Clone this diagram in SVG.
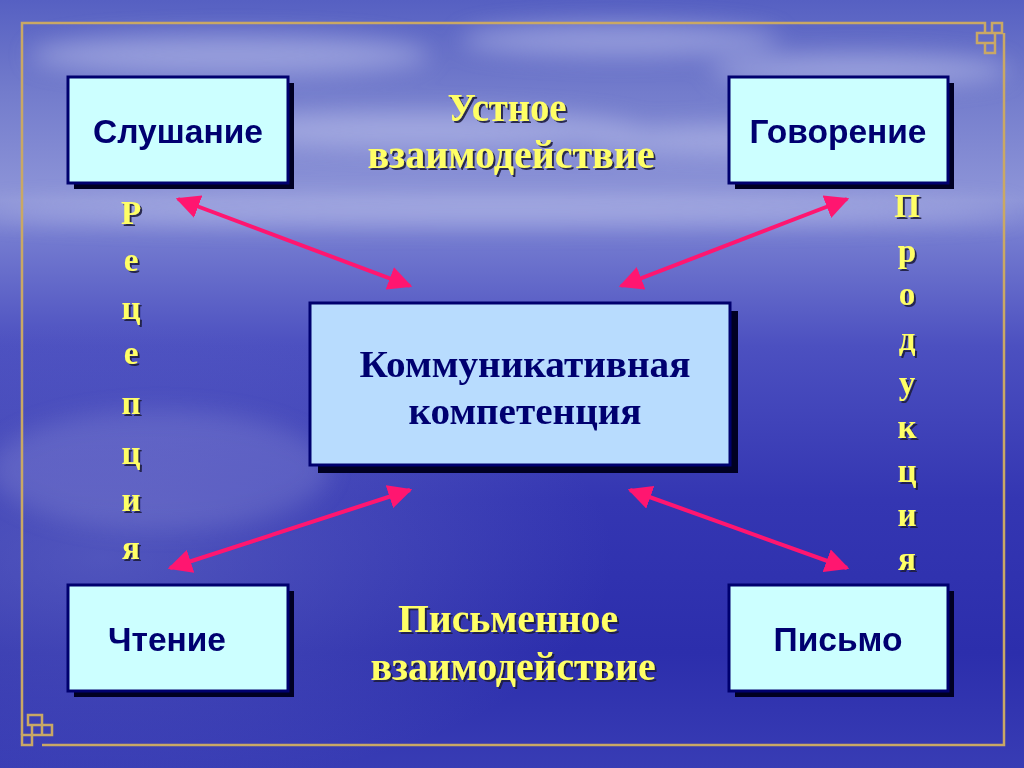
<svg xmlns="http://www.w3.org/2000/svg" width="1024" height="768" viewBox="0 0 1024 768">
<defs>
<linearGradient id="bg" x1="0" y1="0" x2="0" y2="1">
<stop offset="0" stop-color="#5660c2"/>
<stop offset="0.12" stop-color="#737ccc"/>
<stop offset="0.26" stop-color="#8e95d8"/>
<stop offset="0.31" stop-color="#747bd0"/>
<stop offset="0.45" stop-color="#4c50c0"/>
<stop offset="0.65" stop-color="#3436b2"/>
<stop offset="0.85" stop-color="#2c2eac"/>
<stop offset="1" stop-color="#383cb4"/>
</linearGradient>
<radialGradient id="glowL" cx="0.1" cy="0.55" r="0.5">
<stop offset="0" stop-color="#8088d0" stop-opacity="0.4"/>
<stop offset="1" stop-color="#8088d0" stop-opacity="0"/>
</radialGradient>
<filter id="blur" x="-20%" y="-50%" width="140%" height="200%"><feGaussianBlur stdDeviation="12"/></filter>
<filter id="tshadow" x="-10%" y="-10%" width="130%" height="140%">
<feDropShadow dx="2" dy="2" stdDeviation="0.6" flood-color="#1a1a40" flood-opacity="0.9"/>
</filter>
<marker id="ah" viewBox="0 0 10 10" refX="9" refY="5" markerWidth="6" markerHeight="6" orient="auto-start-reverse" markerUnits="strokeWidth">
<path d="M0,0 L10,5 L0,10 z" fill="#ff1670"/>
</marker>
<style>
.box{fill:#ccffff;stroke:#00006e;stroke-width:3}
.cbox{fill:#b8dcfe;stroke:#00006e;stroke-width:3}
.shd{fill:#000022}
.lbl{font-family:"Liberation Sans",Arial,sans-serif;font-weight:bold;font-size:33px;fill:#000070;text-anchor:middle}
.ctr{font-family:"Liberation Serif","Times New Roman",serif;font-weight:bold;font-size:38px;fill:#000070;text-anchor:middle}
.ylw{font-family:"Liberation Serif","Times New Roman",serif;font-weight:bold;font-size:39px;fill:#ffff66;text-anchor:middle;filter:url(#tshadow)}
.vl{font-family:"Liberation Serif","Times New Roman",serif;font-weight:bold;font-size:33px;fill:#ffff66;text-anchor:middle;filter:url(#tshadow)}
.gold{fill:none;stroke:#c9a865;stroke-width:2.5}
.conn{stroke:#ff1670;stroke-width:4;fill:none;marker-start:url(#ah);marker-end:url(#ah)}
</style>
</defs>

<g id="background">
<rect x="0" y="0" width="1024" height="768" fill="url(#bg)"/>
<rect x="0" y="300" width="1024" height="468" fill="url(#glowL)"/>
<g filter="url(#blur)" fill="#c8ccf0" opacity="0.5">
<ellipse cx="230" cy="55" rx="200" ry="20"/>
<ellipse cx="620" cy="40" rx="160" ry="16"/>
<ellipse cx="860" cy="70" rx="150" ry="16"/>
<ellipse cx="420" cy="130" rx="220" ry="18"/>
<ellipse cx="760" cy="140" rx="180" ry="14"/>
<ellipse cx="500" cy="212" rx="520" ry="12"/>
<ellipse cx="160" cy="470" rx="170" ry="60" opacity="0.35"/>
</g>
</g>

<g id="frame">
<path class="gold" d="M22,735 L22,23 L985,23 L985,33"/>
<path class="gold" d="M977,33 h18 v10 h-18 z M992,23 h10 v10 h-10 z M985,43 h10 v10 h-10 z M1004,33 L1004,745 L42,745"/>
<path class="gold" d="M28,715 h14 v10 h-14 z M32,725 h10 v10 h-10 z M42,725 h10 v10 h-10 z M22,735 h10 v10 h-10 z"/>
</g>

<g id="connectors">
<line class="conn" x1="178" y1="199" x2="410" y2="286"/>
<line class="conn" x1="847" y1="199" x2="621" y2="286"/>
<line class="conn" x1="410" y1="490" x2="170" y2="568"/>
<line class="conn" x1="630" y1="490" x2="847" y2="568"/>
</g>

<g id="node-slushanie">
<rect class="shd" x="74" y="83" width="220" height="106"/>
<rect class="box" x="68" y="77" width="220" height="106"/>
<text class="lbl" x="178" y="143" textLength="170" lengthAdjust="spacingAndGlyphs">Слушание</text>
</g>

<g id="node-govorenie">
<rect class="shd" x="735" y="83" width="219" height="106"/>
<rect class="box" x="729" y="77" width="219" height="106"/>
<text class="lbl" x="838" y="143" textLength="177" lengthAdjust="spacingAndGlyphs">Говорение</text>
</g>

<g id="node-chtenie">
<rect class="shd" x="74" y="591" width="220" height="106"/>
<rect class="box" x="68" y="585" width="220" height="106"/>
<text class="lbl" x="167" y="651" textLength="118" lengthAdjust="spacingAndGlyphs">Чтение</text>
</g>

<g id="node-pismo">
<rect class="shd" x="735" y="591" width="219" height="106"/>
<rect class="box" x="729" y="585" width="219" height="106"/>
<text class="lbl" x="838" y="651" textLength="129" lengthAdjust="spacingAndGlyphs">Письмо</text>
</g>

<g id="node-center">
<rect class="shd" x="318" y="311" width="420" height="162"/>
<rect class="cbox" x="310" y="303" width="420" height="162"/>
<text class="ctr" x="525" y="377" textLength="331" lengthAdjust="spacingAndGlyphs">Коммуникативная</text>
<text class="ctr" x="525" y="424" textLength="233" lengthAdjust="spacingAndGlyphs">компетенция</text>
</g>

<g id="label-oral">
<text class="ylw" x="507" y="121" textLength="119" lengthAdjust="spacingAndGlyphs">Устное</text>
<text class="ylw" x="511" y="168" textLength="287" lengthAdjust="spacingAndGlyphs">взаимодействие</text>
</g>

<g id="label-written">
<text class="ylw" x="508" y="632" textLength="220" lengthAdjust="spacingAndGlyphs">Письменное</text>
<text class="ylw" x="513" y="680" textLength="285" lengthAdjust="spacingAndGlyphs">взаимодействие</text>
</g>

<g id="label-recepcia">
<text class="vl" x="131" y="224">Р</text>
<text class="vl" x="131" y="271">е</text>
<text class="vl" x="131" y="319">ц</text>
<text class="vl" x="131" y="364">е</text>
<text class="vl" x="131" y="414">п</text>
<text class="vl" x="131" y="464">ц</text>
<text class="vl" x="131" y="511">и</text>
<text class="vl" x="131" y="559">я</text>
</g>

<g id="label-produkcia">
<text class="vl" x="907" y="217">П</text>
<text class="vl" x="907" y="262">р</text>
<text class="vl" x="907" y="305">о</text>
<text class="vl" x="907" y="350">д</text>
<text class="vl" x="907" y="394">у</text>
<text class="vl" x="907" y="438">к</text>
<text class="vl" x="907" y="482">ц</text>
<text class="vl" x="907" y="526">и</text>
<text class="vl" x="907" y="570">я</text>
</g>
</svg>
